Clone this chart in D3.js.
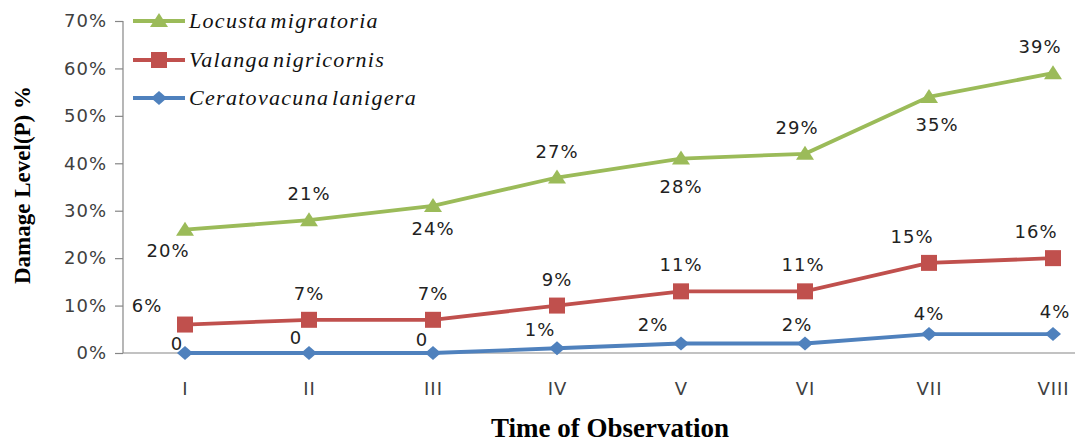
<!DOCTYPE html>
<html><head><meta charset="utf-8">
<script src="https://cdn.jsdelivr.net/npm/d3@7"></script>
<style>body{margin:0;background:#fff}svg{display:block}</style>
</head><body>
<script>
const categories = ["I","II","III","IV","V","VI","VII","VIII"];
const seriesNames = ["Ceratovacuna lanigera","Valanga nigricornis","Locusta migratoria"];
// raw values (%), drawn stacked
const ceratovacuna = [0,0,0,1,2,2,4,4];
const valanga = [6,7,7,9,11,11,15,16];
const locusta = [20,21,24,27,28,29,35,39];
const ceratoLabels = ["0","0","0","1%","2%","2%","4%","4%"];
const valangaLabels = ["6%","7%","7%","9%","11%","11%","15%","16%"];
const locustaLabels = ["20%","21%","24%","27%","28%","29%","35%","39%"];
const yTicks = [0,10,20,30,40,50,60,70];

const colors = {"Locusta migratoria":"#9BBB59","Valanga nigricornis":"#C0504D","Ceratovacuna lanigera":"#4F81BD"};
// label offsets (dx, dy) relative to point
const offsets = {
  "Locusta migratoria": [[-17,27],[0,-20],[0,29],[0,-20],[0,34],[-8,-20],[8,34],[-13,-20]],
  "Valanga nigricornis": [[-38,-13],[0,-20],[0,-20],[0,-20],[0,-20],[-2,-20],[-17,-20],[-17,-20]],
  "Ceratovacuna lanigera": [[-8,-3],[-13,-9],[-11,-7],[-17,-12],[-28,-13],[-8,-13],[0,-14],[2,-16]]
};

const W = 1075, H = 443;
const svg = d3.select("body").append("svg").attr("width",W).attr("height",H);

const x = d3.scalePoint().domain(categories).range([185,1053]);
const y = d3.scaleLinear().domain([0,70]).range([353,21]);

const rows = categories.map((c,i)=>({cat:c,
  "Ceratovacuna lanigera":ceratovacuna[i],
  "Valanga nigricornis":valanga[i],
  "Locusta migratoria":locusta[i]}));
const stacked = d3.stack().keys(seriesNames)(rows);
const labelsBy = {"Ceratovacuna lanigera":ceratoLabels,"Valanga nigricornis":valangaLabels,"Locusta migratoria":locustaLabels};

const numFont = "DejaVu Sans, sans-serif";

// Y axis
const yAxis = svg.append("g").attr("transform","translate(123,0)")
  .call(d3.axisLeft(y).tickValues(yTicks).tickFormat(d=>d+"%").tickSize(8).tickPadding(8));
yAxis.select(".domain").attr("stroke","#868686").attr("stroke-width",1.2).attr("d","M0,21V353");
yAxis.selectAll(".tick line").attr("stroke","#868686").attr("stroke-width",1.2);
yAxis.selectAll(".tick text").attr("font-family",numFont).attr("font-size",18).attr("letter-spacing",1).attr("fill","#404040");

// X axis
const xAxis = svg.append("g").attr("transform","translate(0,353)")
  .call(d3.axisBottom(x).tickSize(0).tickPadding(29));
xAxis.select(".domain").attr("stroke","#868686").attr("stroke-width",1.2).attr("d","M123,0H1075");
xAxis.selectAll(".tick text").attr("font-family",numFont).attr("font-size",18).attr("letter-spacing",1).attr("fill","#404040");

// Axis titles
svg.append("text").attr("x",610).attr("y",437).attr("text-anchor","middle")
  .attr("font-family","Liberation Serif, serif").attr("font-weight","bold").attr("font-size",27)
  .text("Time of Observation");
svg.append("text").attr("transform","translate(30,185) rotate(-90)").attr("text-anchor","middle")
  .attr("font-family","Liberation Serif, serif").attr("font-weight","bold").attr("font-size",23)
  .text("Damage Level(P) %");

const line = d3.line().x((d,i)=>x(categories[i])).y(d=>y(d[1]));

function marker(g, name, cx, cy){
  const c = colors[name];
  if(name==="Locusta migratoria"){
    g.append("path").attr("d",`M${cx},${cy-8}L${cx+9},${cy+6}L${cx-9},${cy+6}Z`).attr("fill",c);
  } else if(name==="Valanga nigricornis"){
    g.append("rect").attr("x",cx-8).attr("y",cy-8).attr("width",16).attr("height",16).attr("fill",c);
  } else {
    g.append("path").attr("d",`M${cx},${cy-7}L${cx+8},${cy}L${cx},${cy+7}L${cx-8},${cy}Z`).attr("fill",c);
  }
}

const order = ["Locusta migratoria","Valanga nigricornis","Ceratovacuna lanigera"];
stacked.forEach(s=>{
  const name = s.key;
  const g = svg.append("g");
  g.append("path").datum(s).attr("d",line).attr("fill","none").attr("stroke",colors[name]).attr("stroke-width",3.8);
  s.forEach((d,i)=>marker(g,name,x(categories[i]),y(d[1])));
  s.forEach((d,i)=>{
    const o = offsets[name][i];
    g.append("text").attr("x",x(categories[i])+o[0]).attr("y",y(d[1])+o[1])
      .attr("text-anchor","middle").attr("font-family",numFont).attr("font-size",18).attr("letter-spacing",1)
      .attr("fill","#222").text(labelsBy[name][i]);
  });
});

// Legend
const lg = svg.append("g");
order.forEach((name,i)=>{
  const ly = [21,60,98][i];
  lg.append("line").attr("x1",133).attr("x2",185).attr("y1",ly).attr("y2",ly).attr("stroke",colors[name]).attr("stroke-width",3.8);
  marker(lg,name,159,ly);
  lg.append("text").attr("x",189).attr("y",ly+7).attr("font-family","Liberation Serif, serif").attr("font-style","italic")
    .attr("font-size",22).attr("letter-spacing",1.3).attr("word-spacing",-4).attr("fill","#111").text(name);
});
</script>
</body></html>
